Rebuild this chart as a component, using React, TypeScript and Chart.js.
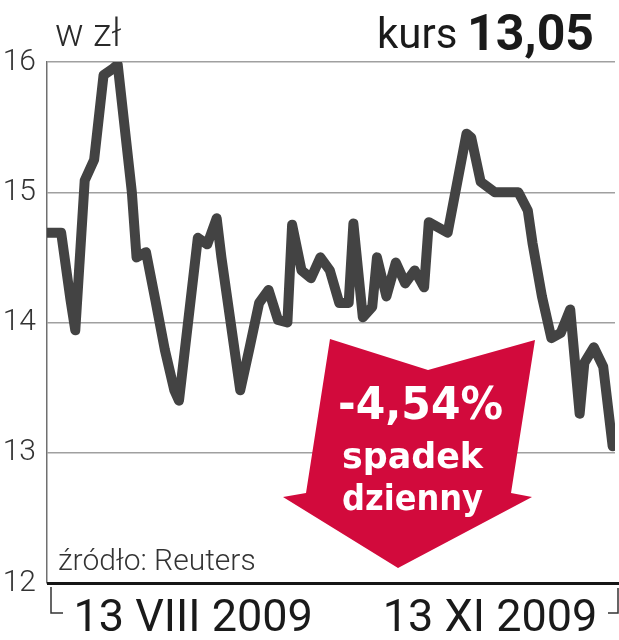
import React, { useEffect, useRef } from "react";
import { Chart, registerables } from "chart.js";

Chart.register(...registerables);

// trading-session index (x) and closing price in PLN (y)
const sessions = [0,3,5,6,8,10,12,14,15,18,19,21,23,25,27,28,32,34,36,37,41,43,45,47,49,51,52,54,56,58,60,62,64,65,67,69,70,72,74,76,78,80,81,85,89,90,92,95,96,100,102,103,105,107,109,111,113,114,116,118,120];
const prices = [14.69,14.69,14.17,13.94,15.09,15.25,15.90,15.95,15.98,15.0,14.5,14.54,14.17,13.79,13.48,13.40,14.65,14.60,14.80,14.50,13.48,13.81,14.15,14.25,14.02,14.00,14.75,14.40,14.34,14.50,14.40,14.15,14.15,14.76,14.04,14.12,14.50,14.20,14.46,14.30,14.40,14.27,14.77,14.69,15.45,15.42,15.08,15.00,15.00,15.00,14.86,14.61,14.20,13.88,13.92,14.10,13.30,13.69,13.81,13.66,13.05];

const xTickValues = [31, 94];
const xTickLabels = ["13 VIII 2009", "13 XI 2009"];
const yMin = 12;
const yMax = 16;

const unitLabel = "w zł";
const kursLabel = "kurs";
const kursValue = "13,05";
const changeLabel = "-4,54%";
const changeLine1 = "spadek";
const changeLine2 = "dzienny";
const sourceLabel = "źródło: Reuters";

const decorPlugin = {
  id: "decor",
  afterDraw(chart: any) {
    const ctx = chart.ctx;
    const ca = chart.chartArea;
    ctx.save();

    // black baseline
    ctx.strokeStyle = "#151515";
    ctx.lineWidth = 3;
    ctx.beginPath();
    ctx.moveTo(ca.left, ca.bottom + 0.5);
    ctx.lineTo(619, ca.bottom + 0.5);
    ctx.stroke();

    // brackets under axis
    ctx.strokeStyle = "#333";
    ctx.lineWidth = 1.5;
    ctx.beginPath();
    ctx.moveTo(51, 587);
    ctx.lineTo(51, 613);
    ctx.lineTo(63, 613);
    ctx.moveTo(608, 613);
    ctx.lineTo(618, 613);
    ctx.lineTo(618, 588);
    ctx.stroke();

    // header
    ctx.fillStyle = "#2a2a2a";
    ctx.textBaseline = "alphabetic";
    ctx.textAlign = "left";
    ctx.font = "300 38px Roboto";
    ctx.fillText(unitLabel, 55, 46);
    ctx.fillStyle = "#1a1a1a";
    ctx.font = "400 42px Roboto";
    ctx.fillText(kursLabel, 377, 48);
    ctx.textAlign = "right";
    ctx.font = "700 50px Roboto";
    ctx.fillText(kursValue, 594, 50);

    // source
    ctx.textAlign = "left";
    ctx.fillStyle = "#333";
    ctx.font = "300 30px Roboto";
    ctx.fillText(sourceLabel, 58, 570);

    // red arrow
    ctx.fillStyle = "#d20a3c";
    ctx.beginPath();
    ctx.moveTo(330, 339);
    ctx.lineTo(428, 370);
    ctx.lineTo(535, 340);
    ctx.lineTo(511, 493);
    ctx.lineTo(532, 497);
    ctx.lineTo(398, 568);
    ctx.lineTo(283, 497);
    ctx.lineTo(306, 493);
    ctx.closePath();
    ctx.fill();

    ctx.fillStyle = "#ffffff";
    ctx.textAlign = "center";
    ctx.font = "700 45px 'DejaVu Sans'";
    ctx.fillText(changeLabel, 420.5, 419, 165);
    ctx.font = "700 36px 'DejaVu Sans'";
    ctx.fillText(changeLine1, 412.5, 468, 141);
    ctx.fillText(changeLine2, 412.5, 510, 141);

    ctx.restore();
  },
};

export default function App() {
  const ref = useRef<HTMLCanvasElement | null>(null);
  useEffect(() => {
    if (!ref.current) return;
    const chart = new Chart(ref.current, {
      type: "line",
      data: {
        datasets: [
          {
            data: sessions.map((s, i) => ({ x: s, y: prices[i] })),
            borderColor: "#434343",
            borderWidth: 10,
            borderJoinStyle: "round",
            borderCapStyle: "round",
            pointRadius: 0,
            tension: 0,
            fill: false,
          },
        ],
      },
      options: {
        animation: false,
        responsive: false,
        layout: { padding: { top: 62, right: 4, left: 0, bottom: 0 } },
        plugins: { legend: { display: false }, tooltip: { enabled: false } },
        scales: {
          x: {
            type: "linear",
            min: 0,
            max: 120.5,
            grid: { display: false },
            border: { display: false },
            afterBuildTicks: (s: any) => {
              s.ticks = xTickValues.map((v) => ({ value: v }));
            },
            afterFit: (s: any) => {
              s.height = 57;
            },
            ticks: {
              autoSkip: false,
              maxRotation: 0,
              padding: 2,
              color: "#1a1a1a",
              font: { family: "Roboto", size: 45 },
              callback: (_v: any, i: number) => xTickLabels[i],
            },
          },
          y: {
            min: yMin,
            max: yMax,
            afterFit: (s: any) => {
              s.width = 47;
            },
            ticks: {
              stepSize: 1,
              padding: 11,
              color: "#333",
              font: { family: "Roboto", size: 30, weight: "300" },
            },
            grid: { color: "#a0a0a0", lineWidth: 1.5, drawTicks: false },
            border: { display: true, color: "#707070", width: 1.5 },
          },
        },
      },
      plugins: [decorPlugin],
    } as any);
    return () => chart.destroy();
  }, []);
  return (
    <div style={{ position: "absolute", left: 0, top: 0, width: 619, height: 640, background: "#fff" }}>
      <canvas ref={ref} width={619} height={640} />
    </div>
  );
}
